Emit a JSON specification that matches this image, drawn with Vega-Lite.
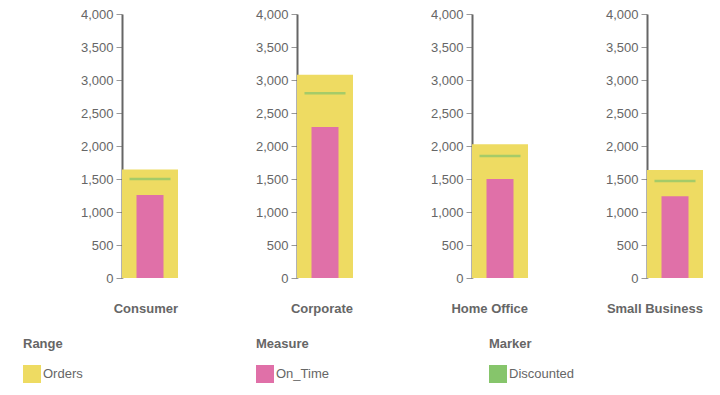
{
  "$schema": "https://vega.github.io/schema/vega-lite/v6.json",
  "padding": {"left": 23, "top": 8, "right": 5, "bottom": 5},
  "data": {"values": [
    {"Segment": "Consumer", "Orders": 1645, "On_Time": 1258, "Discounted": 1500},
    {"Segment": "Corporate", "Orders": 3080, "On_Time": 2288, "Discounted": 2800},
    {"Segment": "Home Office", "Orders": 2026, "On_Time": 1500, "Discounted": 1848},
    {"Segment": "Small Business", "Orders": 1636, "On_Time": 1240, "Discounted": 1470}
  ]},
  "facet": {"column": {"field": "Segment", "type": "nominal", "title": null,
    "header": {"labelOrient": "bottom", "labelAnchor": "end", "labelAlign": "right", "labelFontSize": 13, "labelFontWeight": "bold", "labelColor": "#666", "labelPadding": 18, "labelFont": "Liberation Sans"}}},
  "spacing": 77,
  "resolve": {"scale": {"x": "independent", "y": "independent"}},
  "spec": {
    "width": 56,
    "height": 264,
    "encoding": {"x": {"field": "Segment", "type": "nominal", "axis": null, "scale": {"paddingInner": 0, "paddingOuter": 0}}},
    "layer": [
      {"mark": {"type": "bar"},
       "encoding": {
         "y": {"field": "Orders", "type": "quantitative", "title": null, "scale": {"domain": [0, 4000]}},
         "fill": {"datum": "Orders", "title": "Range", "scale": {"range": ["#eedb62"]},
           "legend": {"orient": "none", "legendX": -99, "legendY": 324}}}},
      {"mark": {"type": "bar", "size": 27},
       "encoding": {
         "y": {"field": "On_Time", "type": "quantitative", "title": null},
         "color": {"datum": "On_Time", "title": "Measure", "scale": {"range": ["#e070a8"]},
           "legend": {"orient": "none", "legendX": 134, "legendY": 324}}}},
      {"mark": {"type": "tick", "size": 41, "thickness": 2.5, "fill": "#86c56b", "strokeWidth": 0},
       "encoding": {
         "y": {"field": "Discounted", "type": "quantitative", "title": null},
         "stroke": {"datum": "Discounted", "title": "Marker", "scale": {"range": ["#86c56b"]},
           "legend": {"orient": "none", "legendX": 367, "legendY": 324, "symbolFillColor": "#86c56b"}}}}
    ]
  },
  "config": {
    "font": "Liberation Sans",
    "view": {"stroke": null},
    "axis": {"domainColor": "#666", "domainWidth": 2, "tickColor": "#999", "tickSize": 6, "labelColor": "#666", "labelFontSize": 13, "labelPadding": 3, "grid": false, "tickCount": 8},
    "legend": {"titleFontSize": 13, "titleFontWeight": "bold", "titleColor": "#666", "labelFontSize": 13, "labelColor": "#666", "symbolType": "square", "symbolSize": 324, "symbolStrokeWidth": 0, "symbolOpacity": 1, "titlePadding": 14, "labelOffset": 2}
  }
}
